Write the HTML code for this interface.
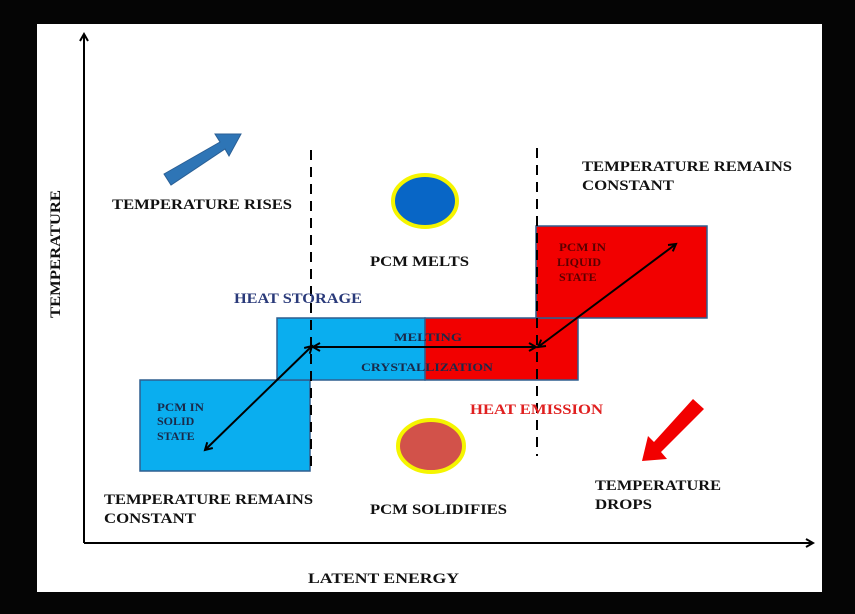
<!DOCTYPE html>
<html><head><meta charset="utf-8"><style>
html,body{margin:0;padding:0;background:#000;}
svg{display:block;}
text{font-family:"Liberation Serif",serif;font-weight:bold;}
</style></head><body>
<svg width="855" height="614" viewBox="0 0 855 614" xmlns="http://www.w3.org/2000/svg">
<defs>
<marker id="ah" markerWidth="10" markerHeight="10" refX="8" refY="5" orient="auto-start-reverse" markerUnits="userSpaceOnUse">
<path d="M1,1 L8,5 L1,9" fill="none" stroke="#000" stroke-width="2"/>
</marker>
</defs>
<rect x="0" y="0" width="855" height="614" fill="#050505"/>
<rect x="37" y="24" width="785" height="568" fill="#fff"/>
<line x1="84" y1="543" x2="84" y2="34" stroke="#000" stroke-width="2" marker-end="url(#ah)"/>
<line x1="84" y1="543" x2="813" y2="543" stroke="#000" stroke-width="2" marker-end="url(#ah)"/>
<rect x="140" y="380" width="170" height="91" fill="#0aaeef" stroke="#2f5f8f" stroke-width="1.5"/>
<rect x="277" y="318" width="148" height="62" fill="#0aaeef" stroke="#2f5f8f" stroke-width="1.5"/>
<rect x="425" y="318" width="153" height="62" fill="#f20000" stroke="#2f5f8f" stroke-width="1.5"/>
<rect x="536" y="226" width="171" height="92" fill="#f20000" stroke="#2f5f8f" stroke-width="1.5"/>
<line x1="311" y1="150" x2="311" y2="471" stroke="#000" stroke-width="2" stroke-dasharray="10,7"/>
<line x1="537" y1="148" x2="537" y2="456" stroke="#000" stroke-width="2" stroke-dasharray="10,7"/>
<line x1="205" y1="450" x2="312" y2="346" stroke="#000" stroke-width="2" marker-start="url(#ah)" marker-end="url(#ah)"/>
<line x1="313" y1="347" x2="536" y2="347" stroke="#000" stroke-width="2" marker-start="url(#ah)" marker-end="url(#ah)"/>
<line x1="538" y1="347" x2="676" y2="244" stroke="#000" stroke-width="2" marker-start="url(#ah)" marker-end="url(#ah)"/>
<ellipse cx="425" cy="201" rx="32" ry="26" fill="#0866c6" stroke="#f5f500" stroke-width="4"/>
<ellipse cx="431" cy="446" rx="33" ry="26" fill="#d2524a" stroke="#f5f500" stroke-width="4"/>
<polygon points="164,174 220,142 215,134 241,134 229,156 225,149 171,185" fill="#2e75b6" stroke="#2a5f95" stroke-width="1"/>
<polygon points="693,399 704,409 661,452 667,459 642,461 648,436 654,442" fill="#f20000"/>
<g font-size="15" fill="#111">
<text x="112" y="209" textLength="180" lengthAdjust="spacingAndGlyphs">TEMPERATURE RISES</text>
<text x="582" y="171" textLength="210" lengthAdjust="spacingAndGlyphs">TEMPERATURE REMAINS</text>
<text x="582" y="190" textLength="92" lengthAdjust="spacingAndGlyphs">CONSTANT</text>
<text x="370" y="266" textLength="99" lengthAdjust="spacingAndGlyphs">PCM MELTS</text>
<text x="104" y="504" textLength="209" lengthAdjust="spacingAndGlyphs">TEMPERATURE REMAINS</text>
<text x="104" y="523" textLength="92" lengthAdjust="spacingAndGlyphs">CONSTANT</text>
<text x="370" y="514" textLength="137" lengthAdjust="spacingAndGlyphs">PCM SOLIDIFIES</text>
<text x="595" y="490" textLength="126" lengthAdjust="spacingAndGlyphs">TEMPERATURE</text>
<text x="595" y="509" textLength="57" lengthAdjust="spacingAndGlyphs">DROPS</text>
<text x="308" y="583" textLength="151" lengthAdjust="spacingAndGlyphs">LATENT ENERGY</text>
<text x="0" y="0" transform="translate(60,318) rotate(-90)" textLength="128" lengthAdjust="spacingAndGlyphs">TEMPERATURE</text>
</g>
<text x="234" y="303" font-size="15" fill="#2a3a7a" textLength="128" lengthAdjust="spacingAndGlyphs">HEAT STORAGE</text>
<text x="470" y="414" font-size="15" fill="#e02020" textLength="133" lengthAdjust="spacingAndGlyphs">HEAT EMISSION</text>
<text x="394" y="341" font-size="12" fill="#1a2a4a" textLength="68" lengthAdjust="spacingAndGlyphs">MELTING</text>
<text x="361" y="371" font-size="12" fill="#1a2a4a" textLength="132" lengthAdjust="spacingAndGlyphs">CRYSTALLIZATION</text>
<g font-size="12" fill="#1a2a4a">
<text x="157" y="411" textLength="47" lengthAdjust="spacingAndGlyphs">PCM IN</text>
<text x="157" y="425">SOLID</text>
<text x="157" y="440">STATE</text>
</g>
<g font-size="12" fill="#5a0000">
<text x="559" y="251" textLength="47" lengthAdjust="spacingAndGlyphs">PCM IN</text>
<text x="557" y="266">LIQUID</text>
<text x="559" y="281">STATE</text>
</g>
</svg>
</body></html>
